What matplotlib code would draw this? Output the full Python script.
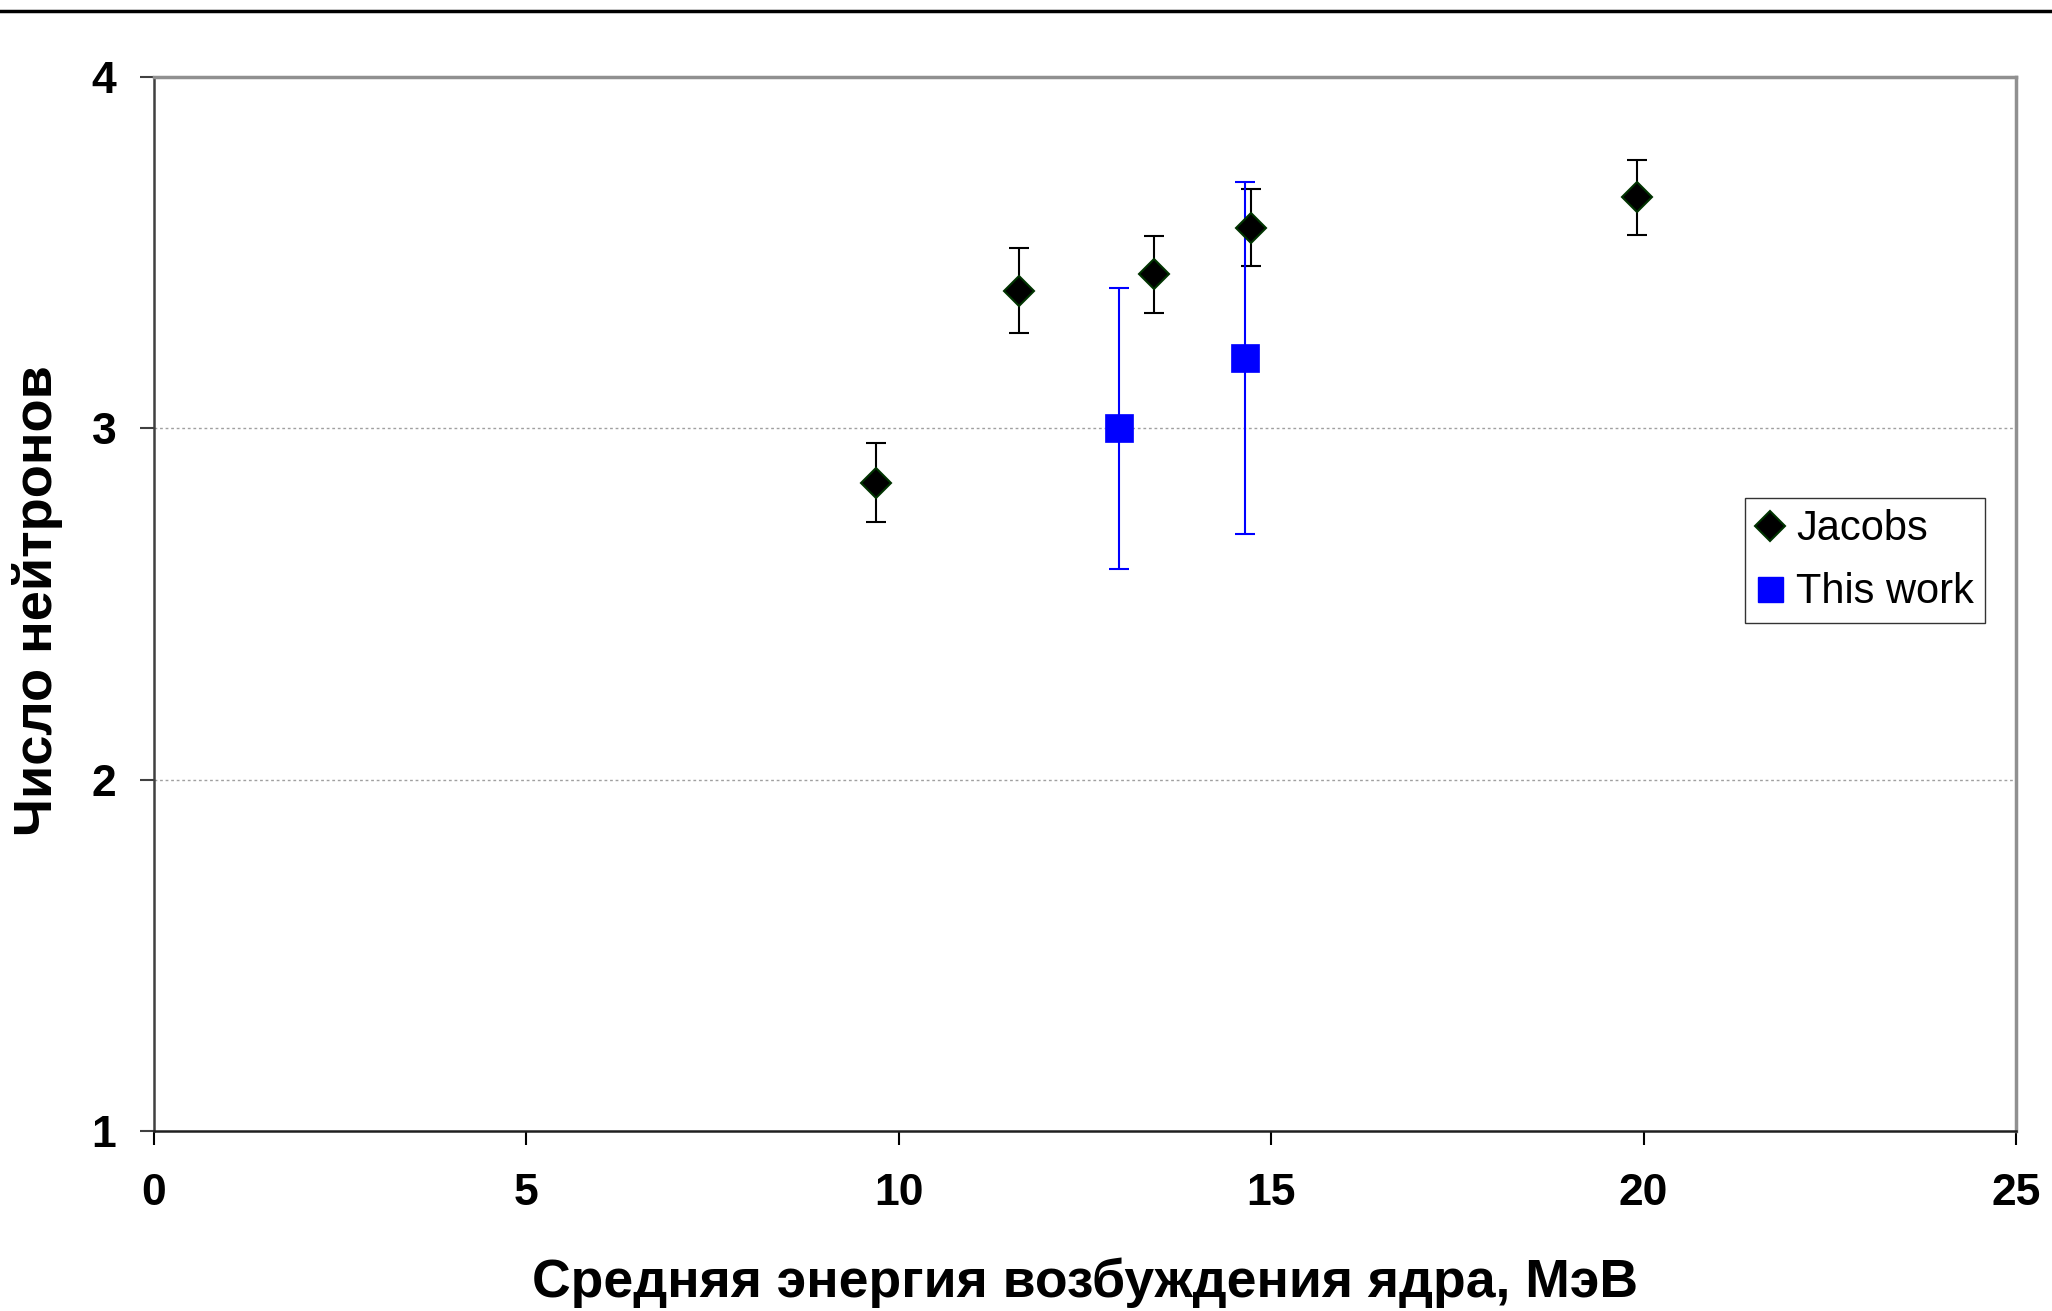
import matplotlib
matplotlib.use("Agg")
import matplotlib.pyplot as plt
from matplotlib.lines import Line2D

# Data
jacobs_x = [9.69, 11.61, 13.42, 14.73, 19.91]
jacobs_y = [2.845, 3.392, 3.438, 3.571, 3.658]
jacobs_err = [0.113, 0.12, 0.11, 0.11, 0.107]

this_x = [12.95, 14.65]
this_y = [3.0, 3.2]
this_err = [0.4, 0.5]

xticks = [0, 5, 10, 15, 20, 25]
yticks = [1, 2, 3, 4]
xlabel = "Средняя энергия возбуждения ядра, МэВ"
ylabel = "Число нейтронов"
legend_labels = ["Jacobs", "This work"]

plt.rcParams['font.family'] = ['Liberation Sans', 'DejaVu Sans']

W, H = 2052, 1311
fig = plt.figure(figsize=(W / 100, H / 100), dpi=100)
ax = fig.add_axes([154 / W, 1 - 1131 / H, (2016 - 154) / W, (1131 - 77) / H])

ax.errorbar(jacobs_x, jacobs_y, yerr=jacobs_err, fmt='none', ecolor='black',
            elinewidth=1.5, capsize=7, capthick=1.5, zorder=3)
ax.plot(jacobs_x, jacobs_y, linestyle='none', marker='D', markersize=15.5,
        markerfacecolor='black', markeredgecolor='#003300', markeredgewidth=1.5, zorder=4)

ax.errorbar(this_x, this_y, yerr=this_err, fmt='none', ecolor='#0000ff',
            elinewidth=1.5, capsize=7, capthick=1.5, zorder=3)
ax.plot(this_x, this_y, linestyle='none', marker='s', markersize=20,
        markerfacecolor='#0000ff', markeredgecolor='#0000ff', markeredgewidth=0.5, zorder=4)

ax.set_xlim(0, 25)
ax.set_ylim(1, 4)
ax.set_xticks(xticks)
ax.set_yticks(yticks)
ax.set_xticklabels([str(t) for t in xticks], fontsize=32, fontweight='bold')
ax.set_yticklabels([str(t) for t in yticks], fontsize=32, fontweight='bold')

for y in [2, 3]:
    ax.axhline(y, color='#a0a0a0', linestyle=(0, (2, 2)), linewidth=1, zorder=1)

ax.tick_params(axis='x', direction='out', length=10, width=1.5, color='black', pad=20)
ax.tick_params(axis='y', direction='out', length=10, width=1.5, color='#404040', pad=17)

ax.spines['left'].set_color('#404040')
ax.spines['left'].set_linewidth(1.8)
ax.spines['bottom'].set_color('#202020')
ax.spines['bottom'].set_linewidth(1.8)
ax.spines['top'].set_color('#909090')
ax.spines['top'].set_linewidth(2.5)
ax.spines['right'].set_color('#909090')
ax.spines['right'].set_linewidth(2.5)

ax.set_xlabel(xlabel, fontsize=38.5, fontweight='bold')
ax.xaxis.set_label_coords(0.5, -0.1442)
ax.xaxis.label.set_verticalalignment('center')
ax.set_ylabel(ylabel, fontsize=39, fontweight='bold')
ax.yaxis.set_label_coords(-0.0625, 0.503)
ax.yaxis.label.set_verticalalignment('center')
ax.yaxis.label.set_horizontalalignment('center')

handles = [
    Line2D([], [], linestyle='none', marker='D', markersize=15, markerfacecolor='black',
           markeredgecolor='#003300', markeredgewidth=1.5),
    Line2D([], [], linestyle='none', marker='s', markersize=18, markerfacecolor='#0000ff',
           markeredgecolor='#0000ff'),
]
leg = ax.legend(handles, legend_labels, loc='upper left',
                bbox_to_anchor=(1745 / W, 1 - 498 / H), bbox_transform=fig.transFigure,
                fontsize=30, frameon=True, fancybox=False, edgecolor='black',
                borderaxespad=0, handlelength=0.65, handletextpad=0.3,
                borderpad=0.27, labelspacing=0.55)
leg.get_frame().set_linewidth(1.0)

# thick top rule across the figure
fig.add_artist(Line2D([0, 1], [1 - 11 / H, 1 - 11 / H], transform=fig.transFigure,
                      color='black', linewidth=2.5))

fig.savefig("out.png", dpi=100)
